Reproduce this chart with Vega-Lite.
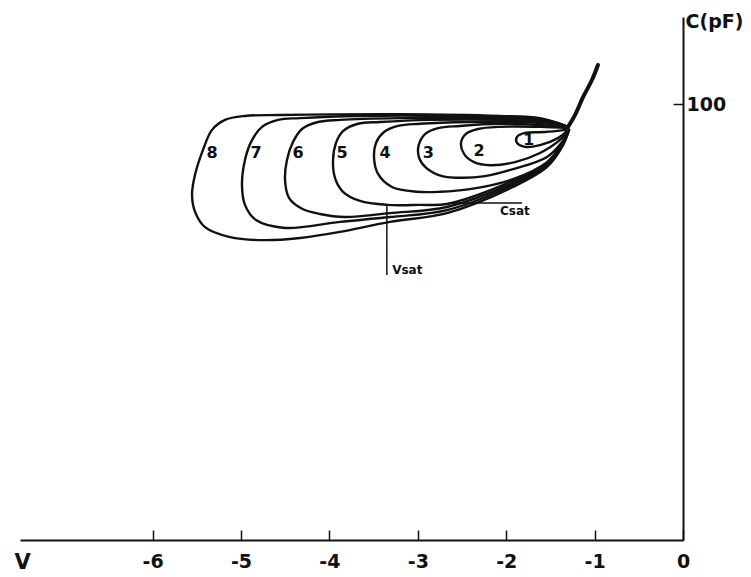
{
  "$schema": "https://vega.github.io/schema/vega-lite/v6.json",
  "width": 663,
  "height": 523,
  "autosize": {"type": "none"},
  "padding": {"left": 20, "top": 17, "right": 68, "bottom": 37},
  "background": "white",
  "config": {"view": {"stroke": null}, "font": "DejaVu Sans"},
  "datasets": {
    "curves": [
      {"k": 0, "i": 1, "v": -1.301, "c": 94.8},
      {"k": 0, "i": 2, "v": -1.222, "c": 97.5},
      {"k": 0, "i": 3, "v": -1.131, "c": 101.6},
      {"k": 0, "i": 4, "v": -1.029, "c": 105.6},
      {"k": 0, "i": 5, "v": -0.962, "c": 109.0},

      {"k": 8, "i": 1, "v": -1.301, "c": 94.8},
      {"k": 8, "i": 2, "v": -1.414, "c": 95.7},
      {"k": 8, "i": 3, "v": -1.618, "c": 96.8},
      {"k": 8, "i": 4, "v": -2.070, "c": 97.3},
      {"k": 8, "i": 5, "v": -3.201, "c": 97.7},
      {"k": 8, "i": 6, "v": -4.559, "c": 97.5},
      {"k": 8, "i": 7, "v": -4.955, "c": 97.3},
      {"k": 8, "i": 8, "v": -5.181, "c": 96.4},
      {"k": 8, "i": 9, "v": -5.328, "c": 94.1},
      {"k": 8, "i": 10, "v": -5.430, "c": 89.5},
      {"k": 8, "i": 11, "v": -5.520, "c": 83.8},
      {"k": 8, "i": 12, "v": -5.554, "c": 79.2},
      {"k": 8, "i": 13, "v": -5.520, "c": 75.3},
      {"k": 8, "i": 14, "v": -5.407, "c": 71.8},
      {"k": 8, "i": 15, "v": -5.124, "c": 69.5},
      {"k": 8, "i": 16, "v": -4.751, "c": 68.8},
      {"k": 8, "i": 17, "v": -4.333, "c": 69.3},
      {"k": 8, "i": 18, "v": -3.880, "c": 70.7},
      {"k": 8, "i": 19, "v": -3.314, "c": 73.0},
      {"k": 8, "i": 20, "v": -2.670, "c": 75.0},
      {"k": 8, "i": 21, "v": -1.923, "c": 81.0},
      {"k": 8, "i": 22, "v": -1.538, "c": 85.6},
      {"k": 8, "i": 23, "v": -1.357, "c": 90.6},
      {"k": 8, "i": 24, "v": -1.290, "c": 94.1},

      {"k": 7, "i": 1, "v": -1.301, "c": 94.8},
      {"k": 7, "i": 2, "v": -1.505, "c": 96.1},
      {"k": 7, "i": 3, "v": -1.844, "c": 96.8},
      {"k": 7, "i": 4, "v": -2.636, "c": 97.3},
      {"k": 7, "i": 5, "v": -3.654, "c": 97.3},
      {"k": 7, "i": 6, "v": -4.333, "c": 96.8},
      {"k": 7, "i": 7, "v": -4.581, "c": 96.4},
      {"k": 7, "i": 8, "v": -4.762, "c": 94.8},
      {"k": 7, "i": 9, "v": -4.887, "c": 91.3},
      {"k": 7, "i": 10, "v": -4.955, "c": 87.2},
      {"k": 7, "i": 11, "v": -4.989, "c": 81.5},
      {"k": 7, "i": 12, "v": -4.955, "c": 76.9},
      {"k": 7, "i": 13, "v": -4.830, "c": 73.4},
      {"k": 7, "i": 14, "v": -4.502, "c": 71.6},
      {"k": 7, "i": 15, "v": -3.880, "c": 73.0},
      {"k": 7, "i": 16, "v": -3.314, "c": 74.1},
      {"k": 7, "i": 17, "v": -2.670, "c": 75.7},
      {"k": 7, "i": 18, "v": -1.923, "c": 81.5},
      {"k": 7, "i": 19, "v": -1.538, "c": 86.0},
      {"k": 7, "i": 20, "v": -1.357, "c": 90.9},
      {"k": 7, "i": 21, "v": -1.290, "c": 94.1},

      {"k": 6, "i": 1, "v": -1.301, "c": 94.8},
      {"k": 6, "i": 2, "v": -1.448, "c": 95.7},
      {"k": 6, "i": 3, "v": -1.731, "c": 96.4},
      {"k": 6, "i": 4, "v": -2.296, "c": 96.8},
      {"k": 6, "i": 5, "v": -3.201, "c": 96.8},
      {"k": 6, "i": 6, "v": -3.880, "c": 96.4},
      {"k": 6, "i": 7, "v": -4.129, "c": 95.9},
      {"k": 6, "i": 8, "v": -4.310, "c": 94.3},
      {"k": 6, "i": 9, "v": -4.412, "c": 91.3},
      {"k": 6, "i": 10, "v": -4.480, "c": 87.2},
      {"k": 6, "i": 11, "v": -4.502, "c": 82.6},
      {"k": 6, "i": 12, "v": -4.457, "c": 78.5},
      {"k": 6, "i": 13, "v": -4.310, "c": 76.0},
      {"k": 6, "i": 14, "v": -4.106, "c": 74.8},
      {"k": 6, "i": 15, "v": -3.824, "c": 74.1},
      {"k": 6, "i": 16, "v": -3.314, "c": 75.0},
      {"k": 6, "i": 17, "v": -2.670, "c": 76.4},
      {"k": 6, "i": 18, "v": -1.923, "c": 81.9},
      {"k": 6, "i": 19, "v": -1.538, "c": 86.3},
      {"k": 6, "i": 20, "v": -1.357, "c": 91.1},
      {"k": 6, "i": 21, "v": -1.290, "c": 94.1},

      {"k": 5, "i": 1, "v": -1.301, "c": 94.8},
      {"k": 5, "i": 2, "v": -1.618, "c": 95.9},
      {"k": 5, "i": 3, "v": -2.070, "c": 96.4},
      {"k": 5, "i": 4, "v": -2.862, "c": 96.4},
      {"k": 5, "i": 5, "v": -3.428, "c": 95.9},
      {"k": 5, "i": 6, "v": -3.676, "c": 95.5},
      {"k": 5, "i": 7, "v": -3.846, "c": 93.8},
      {"k": 5, "i": 8, "v": -3.925, "c": 91.1},
      {"k": 5, "i": 9, "v": -3.959, "c": 87.2},
      {"k": 5, "i": 10, "v": -3.937, "c": 83.1},
      {"k": 5, "i": 11, "v": -3.846, "c": 79.9},
      {"k": 5, "i": 12, "v": -3.654, "c": 77.8},
      {"k": 5, "i": 13, "v": -3.348, "c": 76.9},
      {"k": 5, "i": 14, "v": -2.975, "c": 76.9},
      {"k": 5, "i": 15, "v": -2.670, "c": 77.1},
      {"k": 5, "i": 16, "v": -1.923, "c": 82.4},
      {"k": 5, "i": 17, "v": -1.538, "c": 86.5},
      {"k": 5, "i": 18, "v": -1.357, "c": 91.3},
      {"k": 5, "i": 19, "v": -1.290, "c": 94.1},

      {"k": 4, "i": 1, "v": -1.301, "c": 94.8},
      {"k": 4, "i": 2, "v": -1.505, "c": 95.5},
      {"k": 4, "i": 3, "v": -1.844, "c": 95.9},
      {"k": 4, "i": 4, "v": -2.410, "c": 95.9},
      {"k": 4, "i": 5, "v": -2.975, "c": 95.5},
      {"k": 4, "i": 6, "v": -3.224, "c": 95.0},
      {"k": 4, "i": 7, "v": -3.382, "c": 93.6},
      {"k": 4, "i": 8, "v": -3.473, "c": 91.1},
      {"k": 4, "i": 9, "v": -3.495, "c": 87.7},
      {"k": 4, "i": 10, "v": -3.450, "c": 84.0},
      {"k": 4, "i": 11, "v": -3.292, "c": 81.0},
      {"k": 4, "i": 12, "v": -3.009, "c": 79.9},
      {"k": 4, "i": 13, "v": -2.749, "c": 79.9},
      {"k": 4, "i": 14, "v": -2.410, "c": 80.5},
      {"k": 4, "i": 15, "v": -1.923, "c": 82.8},
      {"k": 4, "i": 16, "v": -1.538, "c": 86.7},
      {"k": 4, "i": 17, "v": -1.357, "c": 91.3},
      {"k": 4, "i": 18, "v": -1.290, "c": 94.1},

      {"k": 3, "i": 1, "v": -1.301, "c": 94.8},
      {"k": 3, "i": 2, "v": -1.618, "c": 95.2},
      {"k": 3, "i": 3, "v": -2.070, "c": 95.5},
      {"k": 3, "i": 4, "v": -2.523, "c": 95.0},
      {"k": 3, "i": 5, "v": -2.770, "c": 94.5},
      {"k": 3, "i": 6, "v": -2.915, "c": 93.2},
      {"k": 3, "i": 7, "v": -2.990, "c": 90.6},
      {"k": 3, "i": 8, "v": -2.985, "c": 87.7},
      {"k": 3, "i": 9, "v": -2.905, "c": 85.4},
      {"k": 3, "i": 10, "v": -2.725, "c": 83.5},
      {"k": 3, "i": 11, "v": -2.489, "c": 83.1},
      {"k": 3, "i": 12, "v": -2.240, "c": 83.5},
      {"k": 3, "i": 13, "v": -1.923, "c": 85.1},
      {"k": 3, "i": 14, "v": -1.538, "c": 87.9},
      {"k": 3, "i": 15, "v": -1.357, "c": 91.6},
      {"k": 3, "i": 16, "v": -1.290, "c": 94.1},

      {"k": 2, "i": 1, "v": -1.301, "c": 94.5},
      {"k": 2, "i": 2, "v": -1.618, "c": 94.8},
      {"k": 2, "i": 3, "v": -2.070, "c": 94.8},
      {"k": 2, "i": 4, "v": -2.319, "c": 94.3},
      {"k": 2, "i": 5, "v": -2.455, "c": 93.2},
      {"k": 2, "i": 6, "v": -2.511, "c": 91.1},
      {"k": 2, "i": 7, "v": -2.477, "c": 88.6},
      {"k": 2, "i": 8, "v": -2.364, "c": 86.7},
      {"k": 2, "i": 9, "v": -2.183, "c": 86.0},
      {"k": 2, "i": 10, "v": -1.900, "c": 86.7},
      {"k": 2, "i": 11, "v": -1.618, "c": 88.8},
      {"k": 2, "i": 12, "v": -1.391, "c": 91.8},
      {"k": 2, "i": 13, "v": -1.290, "c": 94.1},

      {"k": 1, "i": 1, "v": -1.324, "c": 94.1},
      {"k": 1, "i": 2, "v": -1.561, "c": 93.6},
      {"k": 1, "i": 3, "v": -1.787, "c": 93.4},
      {"k": 1, "i": 4, "v": -1.878, "c": 92.5},
      {"k": 1, "i": 5, "v": -1.878, "c": 91.1},
      {"k": 1, "i": 6, "v": -1.787, "c": 90.2},
      {"k": 1, "i": 7, "v": -1.618, "c": 90.6},
      {"k": 1, "i": 8, "v": -1.414, "c": 92.2},
      {"k": 1, "i": 9, "v": -1.312, "c": 93.8}
    ],
    "loopLabels": [
      {"t": "8", "v": -5.328, "c": 88.8},
      {"t": "7", "v": -4.830, "c": 88.8},
      {"t": "6", "v": -4.355, "c": 88.8},
      {"t": "5", "v": -3.857, "c": 88.8},
      {"t": "4", "v": -3.371, "c": 88.8},
      {"t": "3", "v": -2.880, "c": 88.8},
      {"t": "2", "v": -2.308, "c": 89.3},
      {"t": "1", "v": -1.745, "c": 91.8}
    ],
    "satLines": [
      {"v": -2.64, "v2": -1.82, "c": 77.3, "c2": 77.3},
      {"v": -3.35, "v2": -3.35, "c": 76.9, "c2": 60.8}
    ],
    "satLabels": [
      {"t": "Csat", "v": -2.07, "c": 75.5},
      {"t": "Vsat", "v": -3.29, "c": 62.0}
    ]
  },
  "encoding": {
    "x": {
      "field": "v",
      "type": "quantitative",
      "scale": {"domain": [-7.5, 0], "nice": false, "zero": false},
      "axis": {
        "values": [-6, -5, -4, -3, -2, -1, 0],
        "labelExpr": "datum.value < 0 ? '-' + abs(datum.value) : '' + datum.value",
        "grid": false,
        "title": "V",
        "domainColor": "#111",
        "domainWidth": 2,
        "tickColor": "#111",
        "tickWidth": 1.5,
        "tickSize": -10,
        "labelPadding": 31,
        "labelFont": "DejaVu Sans",
        "labelFontWeight": "bold",
        "labelFontSize": 19,
        "labelColor": "#111",
        "labelBaseline": "middle",
        "labelFlush": false,
        "labelOverlap": false,
        "titleFont": "DejaVu Sans",
        "titleFontWeight": "bold",
        "titleFontSize": 21,
        "titleColor": "#111",
        "titleAlign": "center",
        "titleBaseline": "middle",
        "titleX": 2,
        "titleY": 22
      }
    },
    "y": {
      "field": "c",
      "type": "quantitative",
      "scale": {"domain": [0, 120], "nice": false, "zero": false},
      "axis": {
        "orient": "right",
        "values": [100],
        "grid": false,
        "title": "C(pF)",
        "domainColor": "#111",
        "domainWidth": 2,
        "tickColor": "#111",
        "tickWidth": 1.5,
        "tickSize": -10,
        "labelPadding": 13,
        "labelAlign": "left",
        "labelBaseline": "middle",
        "labelFont": "DejaVu Sans",
        "labelFontWeight": "bold",
        "labelFontSize": 19,
        "labelColor": "#111",
        "titleFont": "DejaVu Sans",
        "titleFontWeight": "bold",
        "titleFontSize": 19,
        "titleColor": "#111",
        "titleAngle": 0,
        "titleAlign": "left",
        "titleBaseline": "middle",
        "titleX": 2,
        "titleY": 4
      }
    }
  },
  "layer": [
    {
      "data": {"name": "curves"},
      "transform": [{"filter": "datum.k > 0"}],
      "mark": {"type": "line", "interpolate": "catmull-rom", "color": "#111", "strokeWidth": 2.4, "strokeCap": "round", "strokeJoin": "round"},
      "encoding": {
        "detail": {"field": "k", "type": "nominal"},
        "order": {"field": "i", "type": "quantitative"}
      }
    },
    {
      "data": {"name": "curves"},
      "transform": [{"filter": "datum.k == 0"}],
      "mark": {"type": "line", "interpolate": "catmull-rom", "color": "#111", "strokeWidth": 4, "strokeCap": "round"},
      "encoding": {
        "order": {"field": "i", "type": "quantitative"}
      }
    },
    {
      "data": {"name": "satLines"},
      "mark": {"type": "rule", "color": "#111", "strokeWidth": 1.5},
      "encoding": {
        "x2": {"field": "v2"},
        "y2": {"field": "c2"}
      }
    },
    {
      "data": {"name": "loopLabels"},
      "mark": {"type": "text", "font": "DejaVu Sans", "fontWeight": "bold", "fontSize": 16, "color": "#111", "align": "center", "baseline": "middle"},
      "encoding": {"text": {"field": "t"}}
    },
    {
      "data": {"name": "satLabels"},
      "mark": {"type": "text", "font": "DejaVu Sans", "fontWeight": "bold", "fontSize": 12, "color": "#111", "align": "left", "baseline": "middle"},
      "encoding": {"text": {"field": "t"}}
    }
  ]
}
